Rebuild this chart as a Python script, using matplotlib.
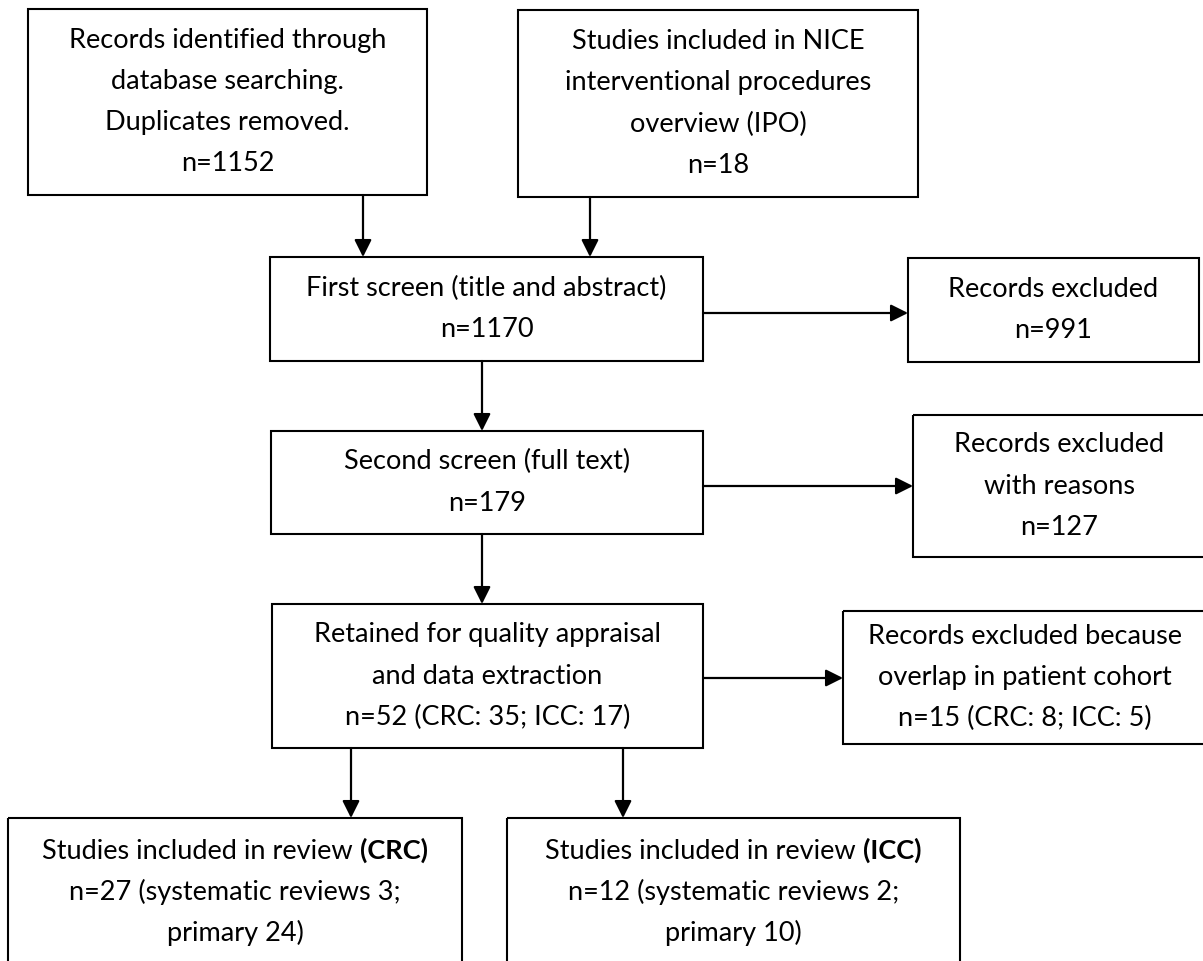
import matplotlib
matplotlib.use("Agg")
import matplotlib.pyplot as plt
from matplotlib.patches import Rectangle

plt.rcParams['font.family'] = ['Lato', 'DejaVu Sans']

# box texts (top to bottom, left to right)
search_lines = ["Records identified through", "database searching.", "Duplicates removed.", "n=1152"]
ipo_lines = ["Studies included in NICE", "interventional procedures", "overview (IPO)", "n=18"]
first_lines = ["First screen (title and abstract)", "n=1170"]
excl1_lines = ["Records excluded", "n=991"]
second_lines = ["Second screen (full text)", "n=179"]
excl2_lines = ["Records excluded", "with reasons", "n=127"]
retained_lines = ["Retained for quality appraisal", "and data extraction", "n=52 (CRC: 35; ICC: 17)"]
excl3_lines = ["Records excluded because", "overlap in patient cohort", "n=15 (CRC: 8; ICC: 5)"]
crc_lines = [("Studies included in review ", "(CRC)"), "n=27 (systematic reviews 3;", "primary 24)"]
icc_lines = [("Studies included in review ", "(ICC)"), "n=12 (systematic reviews 2;", "primary 10)"]

W, H = 1203, 961
FS = 19.5
LSP = 41.3

fig = plt.figure(figsize=(W / 100, H / 100), dpi=100)
ax = fig.add_axes([0, 0, 1, 1])
ax.set_xlim(0, W)
ax.set_ylim(H, 0)
ax.axis('off')
renderer = fig.canvas.get_renderer()


def box(x0, y0, x1, y1, lines, cy=None):
    ax.add_patch(Rectangle((x0, y0), x1 - x0, y1 - y0, fill=False,
                           edgecolor='black', lw=1.5, clip_on=False))
    cx = (x0 + x1) / 2
    if cy is None:
        cy = (y0 + y1) / 2
    n = len(lines)
    for i, line in enumerate(lines):
        yb = cy + 7.5 + (i - (n - 1) / 2) * LSP
        if isinstance(line, tuple):
            # normal text followed by a bold part, centred together
            t1 = ax.text(0, yb, line[0], fontsize=FS, va='baseline', ha='left')
            t2 = ax.text(0, yb, line[1], fontsize=FS, va='baseline', ha='left',
                         fontweight='bold')
            w1 = t1.get_window_extent(renderer).width
            w2 = t2.get_window_extent(renderer).width
            start = cx - (w1 + w2) / 2
            t1.set_x(start)
            t2.set_x(start + w1)
        else:
            ax.text(cx, yb, line, fontsize=FS, va='baseline', ha='center')


def arrow(x0, y0, x1, y1):
    ax.annotate("", xy=(x1, y1), xytext=(x0, y0),
                arrowprops=dict(arrowstyle='-|>', color='black', lw=1.6,
                                mutation_scale=26, shrinkA=0, shrinkB=0))


box(28, 9, 427, 195, search_lines)
box(518, 10, 918, 197, ipo_lines)
box(270, 257, 703, 361, first_lines)
box(908, 258, 1199, 362, excl1_lines)
box(271, 431, 703, 534, second_lines)
box(913, 415, 1205, 557, excl2_lines)
box(272, 604, 703, 748, retained_lines)
box(843, 611, 1207, 744, excl3_lines)
box(8, 818, 462, 990, crc_lines, cy=892.5)
box(507, 818, 960, 990, icc_lines, cy=892.5)

arrow(363, 195, 363, 257)
arrow(590, 197, 590, 257)
arrow(703, 313, 908, 313)
arrow(482, 361, 482, 431)
arrow(703, 486, 913, 486)
arrow(482, 534, 482, 604)
arrow(703, 678, 843, 678)
arrow(351, 748, 351, 818)
arrow(623, 748, 623, 818)

fig.savefig("out.png", dpi=100)
